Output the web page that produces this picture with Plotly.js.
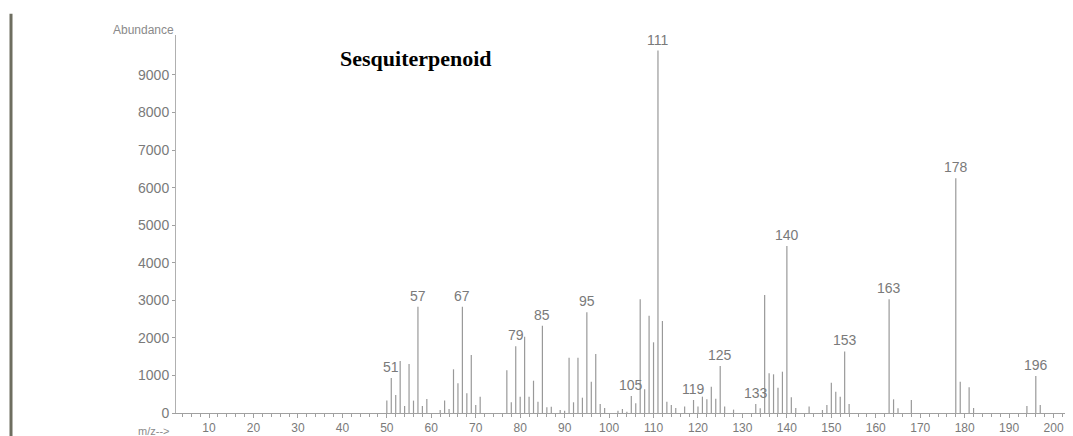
<!DOCTYPE html>
<html>
<head>
<meta charset="utf-8">
<script src="https://cdn.plot.ly/plotly-3.0.1.min.js"></script>
<style>html,body{margin:0;padding:0;background:#fff;}#chart{width:1073px;height:436px;}</style>
</head>
<body>
<div id="chart"></div>
<script>
// m/z values and abundances
const mz = [50,51,52,53,54,55,56,57,58,59,62,63,64,65,66,67,68,69,70,71,
  77,78,79,80,81,82,83,84,85,86,87,89,90,91,92,93,94,95,96,97,98,99,
  102,103,104,105,106,107,108,109,110,111,112,113,114,115,117,119,120,121,122,123,124,125,126,128,
  133,134,135,136,137,138,139,140,141,142,145,148,149,150,151,152,153,154,
  163,164,165,168,178,179,181,182,194,196,197];
const abundance = [330,930,480,1385,186,1305,330,2830,186,373,80,330,106,1163,790,2830,524,1544,213,435,
  1140,285,1775,435,2030,435,860,301,2325,150,168,80,60,1473,285,1473,408,2680,834,1571,240,133,
  60,106,35,452,258,3026,630,2592,1882,9650,2450,300,213,133,170,346,170,435,364,700,382,1251,170,90,
  240,124,3140,1056,1030,674,1100,4446,418,133,170,80,213,808,568,435,1640,240,
  3026,364,124,346,6249,834,684,133,186,985,213];
const labeledPeaks = [51,57,67,79,85,95,105,111,119,125,133,140,153,163,178,196];
const xTicks = [10,20,30,40,50,60,70,80,90,100,110,120,130,140,150,160,170,180,190,200];
const yTicks = [0,1000,2000,3000,4000,5000,6000,7000,8000,9000];
const chartTitle = "Sesquiterpenoid";

// build stick lines from the data
const sx = [], sy = [];
mz.forEach((m, i) => { sx.push(m, m, null); sy.push(0, abundance[i], null); });

const annotations = labeledPeaks.map(m => ({
  x: m, y: abundance[mz.indexOf(m)], xref: 'x', yref: 'y',
  text: String(m), showarrow: false, yanchor: 'bottom', yshift: 1,
  font: {family: 'Liberation Sans, Arial, sans-serif', size: 14, color: '#7a7a7a'}
}));
annotations.push({
  xref: 'paper', yref: 'paper', x: 0, y: 1, xanchor: 'right', yanchor: 'middle', yshift: 5,
  text: 'Abundance', showarrow: false,
  font: {family: 'Liberation Sans, Arial, sans-serif', size: 12, color: '#8a8a8a'}
});
annotations.push({
  xref: 'paper', yref: 'paper', x: -0.006, y: 0, xanchor: 'right', yanchor: 'top', yshift: -10,
  text: 'm/z-->', showarrow: false,
  font: {family: 'Liberation Sans, Arial, sans-serif', size: 11, color: '#8a8a8a'}
});
annotations.push({
  xref: 'paper', yref: 'paper', x: 0.27, y: 0.939, xanchor: 'center', yanchor: 'middle',
  text: '<b>' + chartTitle + '</b>', showarrow: false,
  font: {family: 'Liberation Serif, Times New Roman, serif', size: 22, color: '#000'}
});

const trace = {
  x: sx, y: sy, type: 'scatter', mode: 'lines',
  line: {color: '#999999', width: 1.2}, hoverinfo: 'skip', connectgaps: false
};

const layout = {
  width: 1073, height: 436,
  margin: {l: 176, r: 8, t: 35, b: 23},
  paper_bgcolor: '#ffffff', plot_bgcolor: '#ffffff',
  showlegend: false,
  xaxis: {
    range: [2.57, 202.57], tickmode: 'array', tickvals: xTicks, ticktext: xTicks.map(String),
    showgrid: false, zeroline: false, showline: true, linecolor: '#a0a0a0', linewidth: 1,
    ticks: 'outside', ticklen: 4, tickcolor: '#a0a0a0', ticklabelstandoff: 0,
    minor: {dtick: 2, tick0: 0, ticks: 'outside', ticklen: 3, tickcolor: '#a0a0a0', showgrid: false},
    tickfont: {family: 'Liberation Sans, Arial, sans-serif', size: 12, color: '#7a7a7a'}
  },
  yaxis: {
    range: [0, 10064], tickmode: 'array', tickvals: yTicks, ticktext: yTicks.map(String),
    showgrid: false, zeroline: false, showline: true, linecolor: '#b0b0b0', linewidth: 1,
    ticks: 'outside', ticklen: 3, tickcolor: '#a0a0a0', ticklabelstandoff: 0,
    tickfont: {family: 'Liberation Sans, Arial, sans-serif', size: 14, color: '#7a7a7a'}
  },
  annotations: annotations,
  shapes: [{
    type: 'line', xref: 'paper', yref: 'paper',
    x0: -0.1856, x1: -0.1856, y0: 1.056, y1: -0.07,
    line: {color: '#6e6e60', width: 3}
  }]
};

Plotly.newPlot('chart', [trace], layout, {staticPlot: true, displayModeBar: false});
</script>
</body>
</html>
